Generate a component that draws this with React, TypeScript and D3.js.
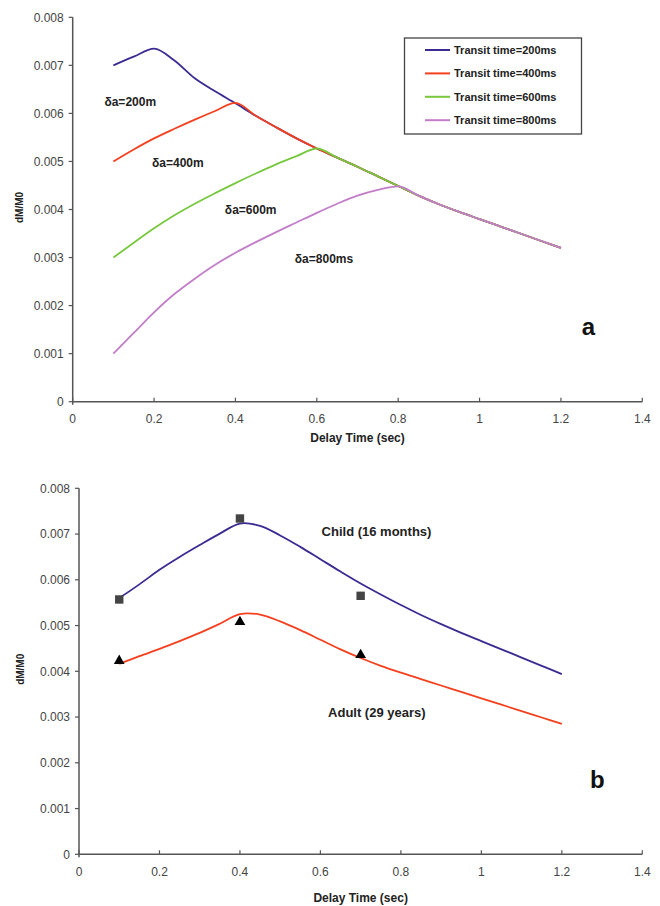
import React from "react";
import * as d3 from "d3";

// ---------- Panel a data ----------
const delayA = [0.1, 0.15, 0.2, 0.25, 0.3, 0.35, 0.4, 0.45, 0.5, 0.55, 0.6, 0.65, 0.7, 0.75, 0.8, 0.85, 0.9, 0.95, 1.0, 1.05, 1.1, 1.15, 1.2];
const transit200 = [0.007, 0.00718, 0.00735, 0.0071, 0.00673, 0.00646, 0.00621, 0.00595, 0.00571, 0.00548, 0.00527, 0.00508, 0.00489, 0.00469, 0.00449, 0.00429, 0.00411, 0.00395, 0.0038, 0.00365, 0.0035, 0.00335, 0.0032];
const transit400 = [0.005, 0.00525, 0.00548, 0.00568, 0.00587, 0.00605, 0.00622, 0.00595, 0.00571, 0.00548, 0.00527, 0.00508, 0.00489, 0.00469, 0.00449, 0.00429, 0.00411, 0.00395, 0.0038, 0.00365, 0.0035, 0.00335, 0.0032];
const transit600 = [0.003, 0.00331, 0.00361, 0.00388, 0.00412, 0.00434, 0.00455, 0.00475, 0.00494, 0.00511, 0.00527, 0.00508, 0.00489, 0.00469, 0.00449, 0.00429, 0.00411, 0.00395, 0.0038, 0.00365, 0.0035, 0.00335, 0.0032];
const transit800 = [0.001, 0.00143, 0.00186, 0.00224, 0.00256, 0.00285, 0.0031, 0.00332, 0.00353, 0.00373, 0.00393, 0.00412, 0.00429, 0.00441, 0.00448, 0.00429, 0.00411, 0.00395, 0.0038, 0.00365, 0.0035, 0.00335, 0.0032];
const seriesNamesA = ["Transit time=200ms", "Transit time=400ms", "Transit time=600ms", "Transit time=800ms"];
const seriesColorsA = ["#3c2a92", "#f5401e", "#77c83e", "#c27ec9"];
const deltaLabels = ["δa=200m", "δa=400m", "δa=600m", "δa=800ms"];
const deltaLabelX = [0.078, 0.195, 0.374, 0.546];
const deltaLabelY = [0.00615, 0.00488, 0.0039, 0.00289];

// ---------- Panel b data ----------
const delayB = [0.1, 0.15, 0.2, 0.25, 0.3, 0.35, 0.4, 0.45, 0.5, 0.55, 0.6, 0.65, 0.7, 0.75, 0.8, 0.85, 0.9, 0.95, 1.0, 1.05, 1.1, 1.15, 1.2];
const childModel = [0.0056, 0.0059, 0.00622, 0.0065, 0.00676, 0.00701, 0.00723, 0.00718, 0.00697, 0.00672, 0.00645, 0.00618, 0.00592, 0.00568, 0.00545, 0.00523, 0.00503, 0.00484, 0.00466, 0.00448, 0.0043, 0.00412, 0.00394];
const adultModel = [0.00416, 0.00433, 0.00449, 0.00466, 0.00484, 0.00504, 0.00525, 0.00524, 0.00509, 0.0049, 0.00469, 0.00448, 0.00429, 0.00412, 0.00397, 0.00383, 0.00369, 0.00355, 0.00341, 0.00327, 0.00313, 0.00299, 0.00285];
const measuredDelay = [0.1, 0.4, 0.7];
const childMeasured = [0.00557, 0.00734, 0.00565];
const adultMeasured = [0.00423, 0.00508, 0.00436];
const childLabel = "Child (16 months)";
const adultLabel = "Adult (29 years)";

const xTicks = [0, 0.2, 0.4, 0.6, 0.8, 1, 1.2, 1.4];
const yTicks = [0, 0.001, 0.002, 0.003, 0.004, 0.005, 0.006, 0.007, 0.008];

const FONT = "'Liberation Sans', Arial, sans-serif";
const AXIS = "#555";
const TICKTXT = "#444";

function Axes({ x, y, titleY, yTitleX }: any) {
  const [x0, x1] = x.range();
  const [yb, yt] = y.range();
  const fmtX = (v: number) => (v === 0 ? "0" : String(+v.toFixed(1)));
  const fmtY = (v: number) => (v === 0 ? "0" : v.toFixed(3));
  return (
    <g fontFamily={FONT}>
      <line x1={x0} x2={x0} y1={yt} y2={yb + 3} stroke={AXIS} strokeWidth={1.5} />
      <line x1={x0} x2={x1} y1={yb} y2={yb} stroke={AXIS} strokeWidth={1.5} />
      {yTicks.map((t) => (
        <g key={"y" + t}>
          <line x1={x0 - 4} x2={x0} y1={y(t)} y2={y(t)} stroke={AXIS} strokeWidth={1.2} />
          <text x={x0 - 9} y={y(t)} dy="0.35em" textAnchor="end" fontSize={12} fill={TICKTXT}>
            {fmtY(t)}
          </text>
        </g>
      ))}
      {xTicks.map((t) => (
        <g key={"x" + t}>
          <line x1={x(t)} x2={x(t)} y1={yb - 4} y2={yb} stroke={AXIS} strokeWidth={1.2} />
          <text x={x(t)} y={yb + 17} dy="0.35em" textAnchor="middle" fontSize={12} fill={TICKTXT}>
            {fmtX(t)}
          </text>
        </g>
      ))}
      <text x={(x0 + x1) / 2} y={titleY} textAnchor="middle" fontSize={12} fontWeight="bold" fill="#222">
        Delay Time (sec)
      </text>
      <text
        transform={`translate(${yTitleX},${(yb + yt) / 2 - 2}) rotate(-90)`}
        textAnchor="middle"
        dy="0.35em"
        fontSize={10}
        fontWeight="bold"
        fill="#222"
      >
        dM/M0
      </text>
    </g>
  );
}

export default function App() {
  // Panel a scales
  const xA = d3.scaleLinear().domain([0, 1.4]).range([72.7, 642.3]);
  const yA = d3.scaleLinear().domain([0, 0.008]).range([401.7, 17.3]);
  // Panel b scales
  const xB = d3.scaleLinear().domain([0, 1.4]).range([79, 642.3]);
  const yB = d3.scaleLinear().domain([0, 0.008]).range([854.3, 488.3]);

  const seriesA = [transit200, transit400, transit600, transit800];
  const lineA = d3
    .line<number>()
    .x((_, i) => xA(delayA[i]))
    .y((d) => yA(d))
    .curve(d3.curveMonotoneX);
  const lineB = d3
    .line<number>()
    .x((_, i) => xB(delayB[i]))
    .y((d) => yB(d))
    .curve(d3.curveCatmullRom.alpha(0.5));

  const tri = d3.symbol().type(d3.symbolTriangle).size(50)();

  return (
    <svg width={660} height={906} style={{ position: "absolute", left: 0, top: 0, background: "#fff" }}>
      <rect width={660} height={906} fill="#fff" />
      {/* Panel a */}
      <Axes x={xA} y={yA} titleY={442} yTitleX={19} />
      {seriesA.map((s, i) => (
        <path key={i} d={lineA(s) || ""} fill="none" stroke={seriesColorsA[i]} strokeWidth={1.8} />
      ))}
      {deltaLabels.map((t, i) => (
        <text key={t} x={xA(deltaLabelX[i])} y={yA(deltaLabelY[i])} fontFamily={FONT} fontSize={12} fontWeight="bold" fill="#222">
          {t}
        </text>
      ))}
      {/* Legend */}
      <g fontFamily={FONT}>
        <rect x={404.5} y={38} width={177} height={96} fill="#fff" stroke="#444" strokeWidth={1.3} />
        {seriesNamesA.map((n, i) => {
          const cy = 50 + i * 23.4;
          return (
            <g key={n}>
              <line x1={425} x2={450} y1={cy} y2={cy} stroke={seriesColorsA[i]} strokeWidth={2} />
              <text x={454} y={cy} dy="0.36em" fontSize={11} fontWeight="bold" fill="#222">
                {n}
              </text>
            </g>
          );
        })}
      </g>
      <text x={xA(1.251)} y={yA(0.00139)} fontFamily={FONT} fontSize={24} fontWeight="bold" fill="#111">
        a
      </text>

      {/* Panel b */}
      <Axes x={xB} y={yB} titleY={902} yTitleX={20} />
      <path d={lineB(childModel) || ""} fill="none" stroke={seriesColorsA[0]} strokeWidth={1.8} />
      <path d={lineB(adultModel) || ""} fill="none" stroke={seriesColorsA[1]} strokeWidth={1.8} />
      {childMeasured.map((v, i) => (
        <rect key={"c" + i} x={xB(measuredDelay[i]) - 4.2} y={yB(v) - 4.2} width={8.4} height={8.4} fill="#444" />
      ))}
      {adultMeasured.map((v, i) => (
        <path key={"a" + i} d={tri || ""} transform={`translate(${xB(measuredDelay[i])},${yB(v)})`} fill="#000" />
      ))}
      <text x={xB(0.603)} y={yB(0.00696)} fontFamily={FONT} fontSize={13} fontWeight="bold" fill="#222">
        {childLabel}
      </text>
      <text x={xB(0.619)} y={yB(0.003)} fontFamily={FONT} fontSize={13} fontWeight="bold" fill="#222">
        {adultLabel}
      </text>
      <text x={xB(1.27)} y={yB(0.00145)} fontFamily={FONT} fontSize={24} fontWeight="bold" fill="#111">
        b
      </text>
    </svg>
  );
}
